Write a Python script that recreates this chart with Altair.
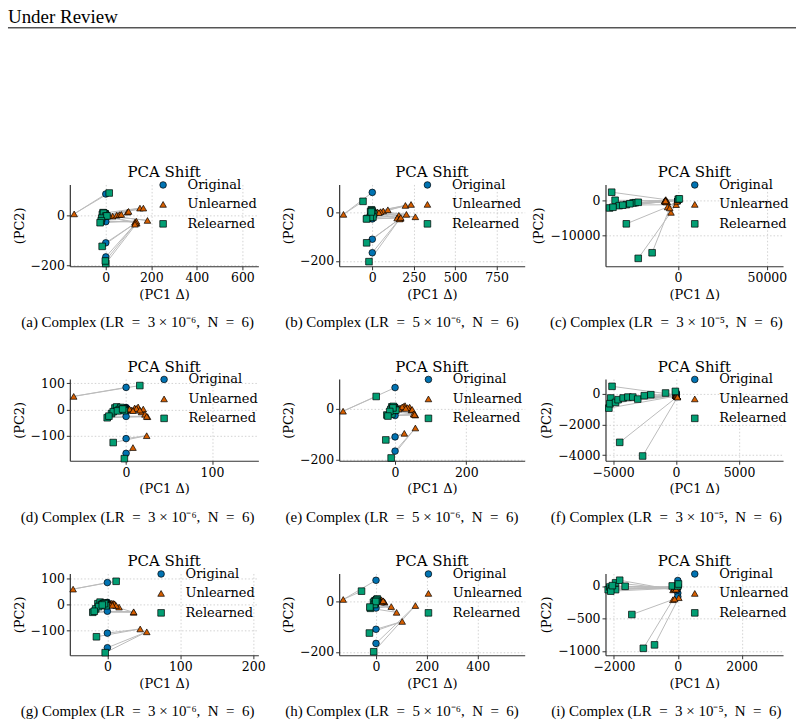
import altair as alt
import pandas as pd

STAGES = ["Original", "Unlearned", "Relearned"]
COLORS = ["#0173b2", "#d55e00", "#029e73"]
SHAPES = ["circle", "triangle-up", "square"]

# Original embeddings (PC1 delta is zero by definition)
orig_x = [0, 0, 0, 0, 0, 0, 0, 0, 0, 0, 0, 0, 0, 0, 0, 0]
orig_y = [84, 8, 6, 5, 4, 3, 2, 1, 0, -1, -2, -4, -6, -26, -110, -166]

# (a) LR 3e-6
a_ux = [-139, 30, 48, 60, 68, 95, 100, 150, 165, 15, 183, 128, 136, 134, 131, 128]
a_uy = [5, -4, 0, 2, 3, 12, 15, 28, 28, -2, -21, -28, -32, -24, -31, -36]
a_rx = [15, -12, -8, -2, -15, -6, -3, -10, -1, -18, 5, -20, 0, -25, -16, -2]
a_ry = [88, 10, 6, 4, 3, -2, 2, 8, -4, -12, -3, -22, -192, -30, -124, -182]
# (b) LR 5e-6
b_ux = [-174, 30, 66, 50, 94, 200, 234, 18, 160, 206, 260, 40, 170, 150, 165, 172]
b_uy = [-7, 3, 7, 4, 12, 30, 34, 2, -11, -7, -17, 0, -24, -22, -26, -20]
b_rx = [-56, -5, -10, 2, 0, -3, 8, -8, -30, -2, 4, -12, -6, -35, -34, -20]
b_ry = [47, 12, 5, 2, 0, -8, -5, -15, -24, 8, -18, -20, 3, -26, -125, -203]
# (c) LR 3e-5
c_ux = [-6800, -7200, -6500, -7100, -7500, -6000, -7000, -6600, -1000, -7300, -6900, -5800, -3900, -4600, -200, -500]
c_uy = [190, -100, -300, -350, -200, -400, 0, -500, -1250, -250, -150, -1900, -3460, -2200, 100, -300]
c_rx = [-37200, -35300, -38400, -24000, -33000, -29000, -25200, -22300, -31000, -36500, -27000, -29000, -22300, -14500, 200, 800]
c_ry = [2300, 0, -2200, -700, -1540, -1250, -770, -580, -1400, -2000, -1000, -6730, -16600, -15000, 300, 400]
# (d) LR 3e-6
d_ux = [-61, 6, 10, 2, 14, 18, 4, 12, 25, 20, 8, 16, 22, 24, 24, 8]
d_uy = [50, -2, 6, 0, 10, -9, 2, 4, -27, 2, -4, -2, -18, -26, -99, -144]
d_rx = [16, -13, -11, -6, -6, -17, -3, -8, -22, -2, -15, -10, -4, -20, -15, -2]
d_ry = [91, 6, 10, 8, -2, -15, 3, 0, -31, -4, -8, -5, 2, -25, -125, -186]
# (e) LR 5e-6
e_ux = [-146, 14, 28, 24, 41, 46, 20, 35, 57, 10, 30, 48, 52, 55, 26, 57]
e_uy = [-9, 4, 13, 10, 7, -4, 8, 5, -24, 0, 2, -2, -20, -22, -96, -75]
e_rx = [-53, -7, -9, -4, -2, -12, -5, -3, -23, -9, 2, -6, -15, -20, -26, -11]
e_ry = [49, 0, 8, 2, 5, -2, 10, -6, -24, -20, -5, 4, -10, -28, -122, -193]
# (f) LR 3e-5
f_ux = [-50, -20, 30, 15, -10, 60, 20, 40, 80, 10, 50, 70, 30, 60, 100, 120]
f_uy = [-80, -120, -150, -100, -100, -160, -130, -110, -180, -140, -120, -170, -90, -150, -200, -220]
f_rx = [-5080, -5180, -5330, -50, -5250, -4800, -4600, -4200, -3820, -3430, -3040, -2520, -2000, -830, -4470, -2650]
f_ry = [480, -280, -940, 150, -650, -570, -390, -280, -220, -220, -350, -130, -65, 45, -3170, -4060]
# (g) LR 3e-6
g_ux = [-47, 9, 4, 6, 16, 3, 8, 2, 36, 5, 10, 12, 7, 36, 45, 54]
g_uy = [59, 3, 2, 5, -10, 0, 4, 1, -30, -2, 2, -4, -3, -28, -94, -105]
g_rx = [12, -13, -10, -5, -16, -8, -3, -6, -20, -2, -12, -4, -7, -18, -15, -3]
g_ry = [89, 3, 9, 4, -17, 0, 6, 2, -30, -5, -8, 3, -2, -26, -124, -185]
# (h) LR 5e-6
h_ux = [-129, 21, 15, 10, 34, 18, 8, 25, 81, 12, 30, 20, 28, 60, 103, 155]
h_uy = [8, 7, 4, 6, -3, 2, 5, 0, -43, 3, 1, -2, 3, -20, -79, -16]
h_rx = [-57, -5, 3, -2, -8, 0, 5, -10, -22, -4, 2, -6, -1, -24, -26, -9]
h_ry = [41, 2, 7, 0, -5, 4, 10, -3, -27, -8, 5, -12, 0, -22, -125, -199]
# (i) LR 3e-5
i_ux = [-120, -80, -60, -100, -40, -150, -90, -20, -70, -110, -50, -30, -60, -155, 31, -100]
i_uy = [-30, -20, -40, -10, -50, -60, -25, -15, -35, -45, -20, -30, -50, -212, -181, -200]
i_rx = [-2180, -2130, -2080, -1990, -1950, -1820, -1650, -1950, -2100, -175, 0, 20, -2050, -1080, -730, -1440]
i_ry = [-57, -16, -40, -16, 47, 88, -5, -57, -80, 0, 0, 30, 5, -960, -907, -440]

labels = ["(a)", "(b)", "(c)", "(d)", "(e)", "(f)", "(g)", "(h)", "(i)"]
lrs = ["3\u00a0×\u00a010⁻⁶", "5\u00a0×\u00a010⁻⁶", "3\u00a0×\u00a010⁻⁵"] * 3
unl_x = [a_ux, b_ux, c_ux, d_ux, e_ux, f_ux, g_ux, h_ux, i_ux]
unl_y = [a_uy, b_uy, c_uy, d_uy, e_uy, f_uy, g_uy, h_uy, i_uy]
rel_x = [a_rx, b_rx, c_rx, d_rx, e_rx, f_rx, g_rx, h_rx, i_rx]
rel_y = [a_ry, b_ry, c_ry, d_ry, e_ry, f_ry, g_ry, h_ry, i_ry]
x_domains = [[-158, 670], [-200, 920], [-40700, 59100],
             [-65.5, 154], [-157, 364], [-5600, 8500],
             [-51.5, 207], [-145, 585], [-2265, 3295]]
y_domains = [[-203, 122], [-222, 117], [-18850, 4520],
             [-194, 116], [-204, 118], [-4370, 960],
             [-195, 119], [-213, 111], [-1067, 192]]
x_ticks = [[0, 200, 400, 600], [0, 250, 500, 750], [0, 50000],
           [0, 100], [0, 200], [-5000, 0, 5000],
           [0, 100, 200], [0, 200, 400], [-2000, 0, 2000]]
y_ticks = [[-200, 0], [-200, 0], [-10000, 0],
           [-100, 0, 100], [-200, 0], [-4000, -2000, 0],
           [-100, 0, 100], [-200, 0], [-1000, -500, 0]]

COL_W = [189, 186, 178]
PLOT_H = 82
LEG_X = [87, 82, 83, 88, 83, 83, 85, 83, 83]
CAP_X = [68, 63, 61]


def panel(k):
    col = k % 3
    rows = []
    for s in range(len(orig_y)):
        pts = [(orig_x[s], orig_y[s]), (unl_x[k][s], unl_y[k][s]), (rel_x[k][s], rel_y[k][s])]
        for o, (st, (px, py)) in enumerate(zip(STAGES, pts)):
            rows.append({"sample": s, "stage": st, "order": o, "x": px, "y": py})
    df = pd.DataFrame(rows)
    base = alt.Chart(df)
    xenc = alt.X("x:Q", scale=alt.Scale(domain=x_domains[k], nice=False, zero=False),
                 axis=alt.Axis(values=x_ticks[k], format="d", title="(PC1 Δ)"))
    yenc = alt.Y("y:Q", scale=alt.Scale(domain=y_domains[k], nice=False, zero=False),
                 axis=alt.Axis(values=y_ticks[k], format="d", title="(PC2)"))
    lines = base.mark_line(color="#bcbcbc", strokeWidth=1).encode(
        x=xenc, y=yenc, detail="sample:N", order="order:Q")
    pts = base.mark_point(filled=True, size=44, stroke="black", strokeWidth=0.7, opacity=1).encode(
        x=xenc, y=yenc,
        color=alt.Color("stage:N", scale=alt.Scale(domain=STAGES, range=COLORS),
                        legend=alt.Legend(orient="none", legendX=LEG_X[k], legendY=-6, title=None,
                                          labelFont="DejaVu Serif", labelFontSize=13, labelColor="black",
                                          labelOffset=18, rowPadding=5.5, symbolStrokeColor="black",
                                          symbolStrokeWidth=0.7, symbolSize=44, padding=0)),
        shape=alt.Shape("stage:N", scale=alt.Scale(domain=STAGES, range=SHAPES),
                        legend=alt.Legend(orient="none", legendX=LEG_X[k], legendY=-6, title=None)),
        order=alt.Order("order:Q"))
    ttl = alt.Chart(pd.DataFrame({"t": ["PCA Shift"]})).mark_text(
        font="DejaVu Serif", fontSize=15, align="center", baseline="alphabetic", color="black").encode(
        x=alt.value(COL_W[col] / 2), y=alt.value(-7), text="t:N")
    caption = f"{labels[k]} Complex (LR\u00a0\u00a0=\u00a0\u00a0{lrs[k]},\u00a0\u00a0N\u00a0\u00a0=\u00a0\u00a06)"
    cap = alt.Chart(pd.DataFrame({"t": [caption]})).mark_text(
        font="Liberation Serif", fontSize=15, align="center", baseline="middle", color="black").encode(
        x=alt.value(CAP_X[col]), y=alt.value(PLOT_H + 56), text="t:N")
    layers = [lines, pts, ttl, cap]
    if k == 0:
        head = alt.Chart(pd.DataFrame({"t": ["Under Review"]})).mark_text(
            font="Liberation Serif", fontSize=19, align="left", baseline="top", color="black").encode(
            x=alt.value(-62), y=alt.value(-177), text="t:N")
        rule = alt.Chart(pd.DataFrame({"t": [0]})).mark_rule(color="black", strokeWidth=1).encode(
            x=alt.value(-62), x2=alt.value(728), y=alt.value(-157))
        layers += [head, rule]
    return alt.layer(*layers).properties(width=COL_W[col], height=PLOT_H)


chart = alt.concat(*[panel(k) for k in range(9)], columns=3, bounds="flush", align="each",
                   spacing=alt.RowColnumber(row=113, column=81)).resolve_scale(
    color="independent", shape="independent").properties(
    padding={"left": 7, "top": 6, "right": 7, "bottom": 4}).configure_view(
    stroke="transparent").configure_axis(
    labelFont="DejaVu Serif", labelFontSize=12.5, labelColor="black",
    titleFont="DejaVu Serif", titleFontSize=13, titleFontWeight="normal", titleColor="black",
    domainColor="#333333", domainWidth=1.2, tickColor="#333333", tickSize=3.5,
    gridColor="#c8c8c8", gridDash=[1.5, 2], gridWidth=0.8, labelPadding=2, titlePadding=4)

chart.save("out.html", embed_options={"renderer": "svg", "actions": False})
